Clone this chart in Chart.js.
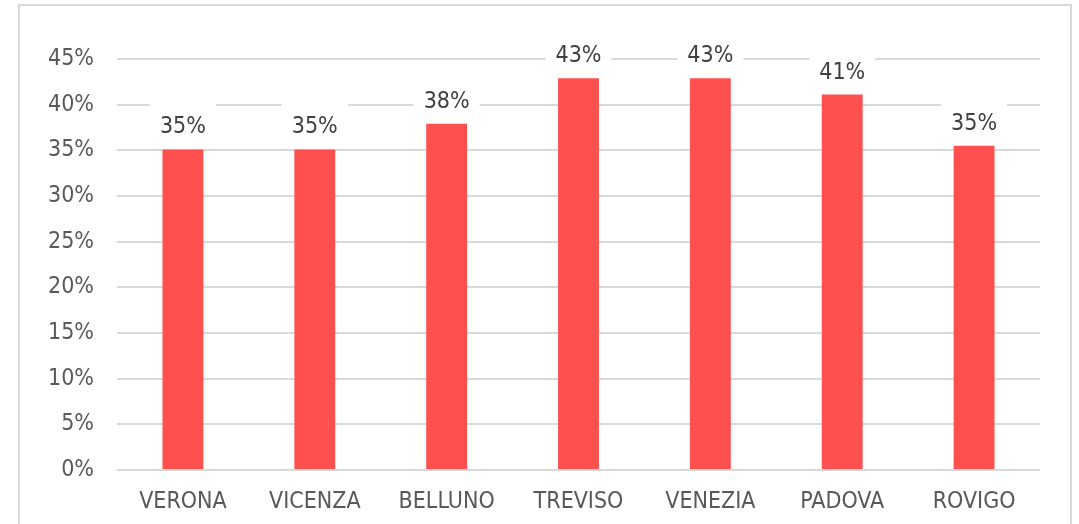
<!DOCTYPE html>
<html>
<head>
<meta charset="utf-8">
<script src="https://cdn.jsdelivr.net/npm/chart.js@4"></script>
<style>
  html, body { margin: 0; padding: 0; background: #fff; }
  #wrap { position: relative; width: 1079px; height: 524px; overflow: hidden; }
  #frame { position: absolute; left: 18px; top: 4px; width: 1054px; height: 540px; border: 2px solid #d9d9d9; box-sizing: border-box; }
  canvas { position: absolute; left: 0; top: 0; }
</style>
</head>
<body>
<div id="wrap">
  <div id="frame"></div>
  <canvas id="myChart" width="1079" height="524"></canvas>
</div>
<script>
// province names and share values (%)
const categories = ['VERONA', 'VICENZA', 'BELLUNO', 'TREVISO', 'VENEZIA', 'PADOVA', 'ROVIGO'];
const values = [35.1, 35.1, 37.9, 42.9, 42.9, 41.1, 35.5];
const valueLabels = ['35%', '35%', '38%', '43%', '43%', '41%', '35%'];
const tickValues = [0, 5, 10, 15, 20, 25, 30, 35, 40, 45];

const fontFamily = '"DejaVu Sans Condensed", Tahoma, sans-serif';

// draw the value labels on a white box above each bar
const labelPlugin = {
    id: 'barLabels',
    afterDatasetsDraw(chart) {
        const ctx = chart.ctx;
        const meta = chart.getDatasetMeta(0);
        ctx.save();
        ctx.font = '23px ' + fontFamily;
        ctx.textAlign = 'center';
        ctx.textBaseline = 'alphabetic';
        meta.data.forEach((bar, i) => {
            const text = valueLabels[i];
            const w = ctx.measureText(text).width;
            const baseY = bar.y - 16;
            ctx.fillStyle = '#ffffff';
            ctx.fillRect(bar.x - w / 2 - 10, baseY - 31, w + 20, 37);
            ctx.fillStyle = '#404040';
            ctx.fillText(text, bar.x, baseY);
        });
        ctx.restore();
    }
};

const ctx = document.getElementById('myChart').getContext('2d');
new Chart(ctx, {
    type: 'bar',
    data: {
        labels: categories,
        datasets: [{
            data: values,
            backgroundColor: '#ff5050',
            borderWidth: 0,
            categoryPercentage: 1,
            barPercentage: 0.31
        }]
    },
    options: {
        responsive: false,
        animation: false,
        layout: { padding: { top: 59, right: 39, bottom: 0, left: 0 } },
        plugins: {
            legend: { display: false },
            tooltip: { enabled: false }
        },
        scales: {
            x: {
                grid: { display: false, drawTicks: false },
                border: { display: false },
                ticks: {
                    color: '#595959',
                    font: { size: 23, family: fontFamily },
                    padding: 18,
                    maxRotation: 0
                },
                afterFit(scale) { scale.height = 54; }
            },
            y: {
                min: 0,
                max: 45,
                afterBuildTicks(scale) {
                    scale.ticks = tickValues.map(v => ({ value: v }));
                },
                grid: { color: '#d9d9d9', lineWidth: 2, drawTicks: false },
                border: { display: false },
                ticks: {
                    color: '#595959',
                    font: { size: 23, family: fontFamily },
                    padding: 23,
                    callback: v => v + '%'
                },
                afterFit(scale) { scale.width = 117; }
            }
        }
    },
    plugins: [labelPlugin]
});
</script>
</body>
</html>
